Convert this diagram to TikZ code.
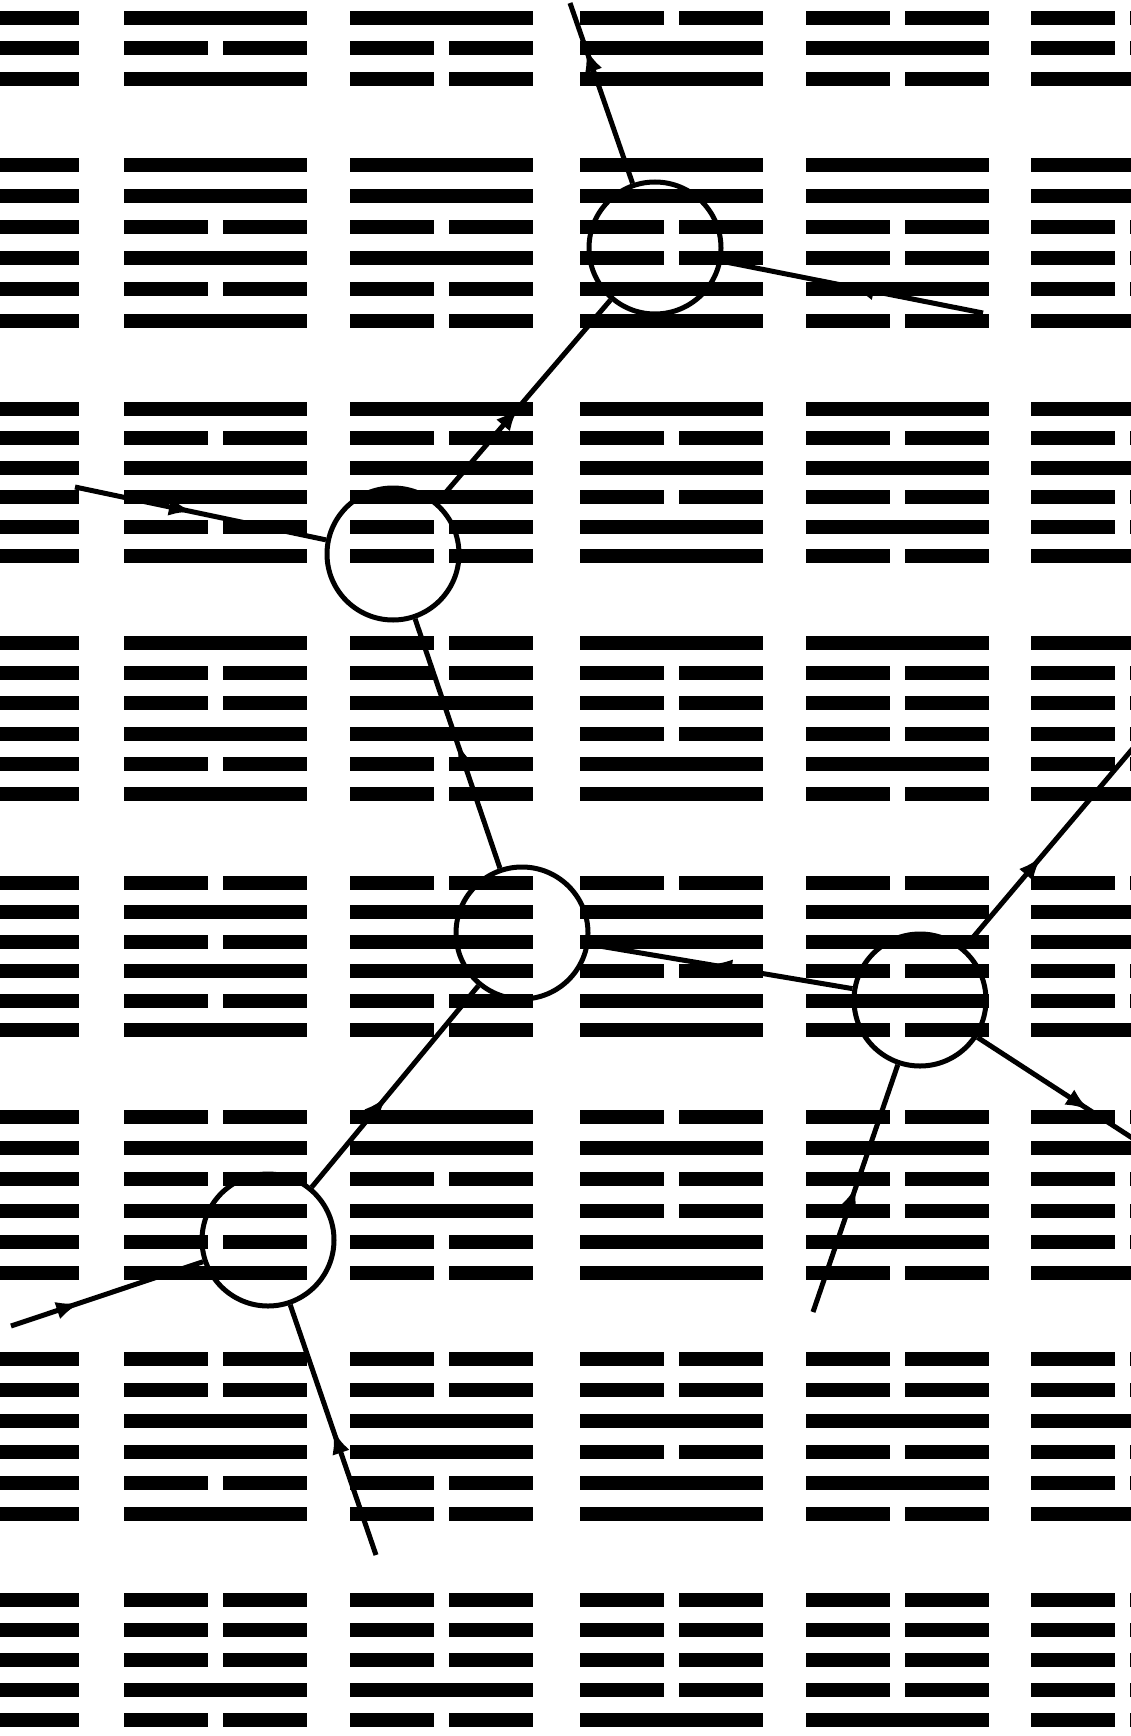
\documentclass[tikz,border=0pt]{standalone}
\usetikzlibrary{arrows.meta,decorations.markings}
\newcommand\hexg[4]{%
  \foreach \b [count=\i from 0] in {#4}{%
    \pgfmathsetmacro\yy{#2+\i*#3}%
    \ifnum\b=1
      \draw[yaobar] (#1,\yy) -- ++(183,0);%
    \else
      \draw[yaobar] (#1,\yy) -- ++(84,0) (#1+99,\yy) -- ++(84,0);%
    \fi
  }}
\newcommand\hrow[8]{%
  \hexg{-104}{#1}{#2}{#3}\hexg{124}{#1}{#2}{#4}\hexg{350}{#1}{#2}{#5}%
  \hexg{580}{#1}{#2}{#6}\hexg{806}{#1}{#2}{#7}\hexg{1031}{#1}{#2}{#8}}
\begin{document}
\begin{tikzpicture}[x=1pt,y=-1pt,
  yaobar/.style={line width=14pt},
  ring/.style={circle,draw,line width=5pt,minimum size=132pt,inner sep=0pt},
  flowline/.style={line width=5pt,postaction={decorate},
    decoration={markings,mark=at position #1 with {\arrow{Latex[length=24pt,width=18pt]}}}}]
\useasboundingbox (0,0) rectangle (1131,1736);
\fill[white] (0,0) rectangle (1131,1736);
\clip (0,0) rectangle (1131,1736);
% hexagram grid
\hrow{-73.5}{30.5}{1,1,1,1,1,0}{1,1,1,1,0,1}{1,1,1,1,0,0}{1,1,1,0,1,1}{1,1,1,0,1,0}{1,1,1,0,0,1}
\hrow{165}{31.1}{1,1,0,1,1,0}{1,1,0,1,0,1}{1,1,0,1,0,0}{1,1,0,0,1,1}{1,1,0,0,1,0}{1,1,0,0,0,1}
\hrow{409}{29.4}{1,0,1,1,1,0}{1,0,1,1,0,1}{1,0,1,1,0,0}{1,0,1,0,1,1}{1,0,1,0,1,0}{1,0,1,0,0,1}
\hrow{643}{30.2}{1,0,0,1,1,0}{1,0,0,1,0,1}{0,0,1,1,0,0}{1,0,0,0,1,1}{1,0,0,0,1,0}{1,0,0,0,0,1}
\hrow{883}{29.4}{0,1,1,1,1,0}{0,1,0,1,0,1}{0,1,1,1,0,0}{0,1,1,0,1,1}{0,1,1,0,1,0}{0,1,1,0,0,1}
\hrow{1117}{31.2}{0,1,0,1,1,0}{0,1,0,1,0,1}{1,1,0,1,0,0}{0,1,0,0,1,1}{0,1,0,0,1,0}{0,1,0,0,0,1}
\hrow{1359}{31}{0,0,1,1,1,0}{0,0,1,1,0,1}{0,0,1,1,0,0}{0,0,1,0,1,1}{0,0,1,0,1,0}{0,0,1,0,0,1}
\hrow{1600}{30}{0,0,0,1,1,0}{0,0,0,1,0,1}{0,0,0,1,0,0}{0,0,0,0,1,1}{0,0,0,0,1,0}{0,0,0,0,0,1}
% circles
\node[ring] (c1) at (655,248) {};
\node[ring] (c2) at (393,554) {};
\node[ring] (c3) at (522,933) {};
\node[ring] (c4) at (920,1000) {};
\node[ring] (c5) at (268,1240) {};
% free ends
\coordinate (top) at (570,3);
\coordinate (r1) at (983,313);
\coordinate (l2) at (75,487);
\coordinate (ur) at (1140,740);
\coordinate (lr) at (1140,1143);
\coordinate (b4) at (813,1312);
\coordinate (l5) at (11,1326);
\coordinate (b5) at (376,1555);
% connectors
\draw[flowline=0.75] (c1) -- (top);
\draw[flowline=0.51] (r1) -- (c1);
\draw[flowline=0.47] (c2) -- (c1);
\draw[flowline=0.47] (l2) -- (c2);
\draw[flowline=0.5] (c3) -- (c2);
\draw[flowline=0.55] (c4) -- (c3);
\draw[flowline=0.45] (c5) -- (c3);
\draw[flowline=0.36] (l5) -- (c5);
\draw[flowline=0.5] (b5) -- (c5);
\draw[flowline=0.51] (b4) -- (c4);
\draw[flowline=0.44] (c4) -- (ur);
\draw[flowline=0.69] (c4) -- (lr);
\end{tikzpicture}
\end{document}
